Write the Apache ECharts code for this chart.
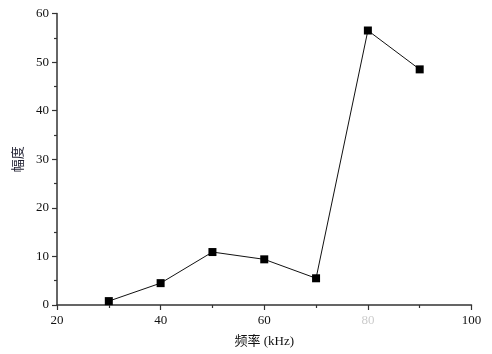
<!DOCTYPE html>
<html><head><meta charset="utf-8">
<script src="https://cdn.jsdelivr.net/npm/echarts@6/dist/echarts.min.js"></script>
<style>html,body{margin:0;padding:0;background:#fff}#c{width:492px;height:354px}</style>
</head><body><div id="c"></div>
<script>
const freq = [30, 40, 50, 60, 70, 80, 90];
const amp = [0.8, 4.5, 10.9, 9.4, 5.5, 56.5, 48.5];
const xName = '频率 (kHz)';
const yName = '幅度';
const fontSerif = '"Liberation Serif","Times New Roman",serif';
const fontCJK = '"Liberation Serif","Noto Sans CJK SC",serif';
const chart = echarts.init(document.getElementById('c'), null, {renderer: 'canvas'});
chart.setOption({
  animation: false,
  backgroundColor: '#fff',
  grid: {left: 57, right: 20.5, top: 13.5, bottom: 49, containLabel: false},
  xAxis: {
    type: 'value', min: 20, max: 100, interval: 20,
    name: xName, nameLocation: 'middle', nameGap: 30,
    nameTextStyle: {fontFamily: fontCJK, fontSize: 13, color: '#111'},
    axisLine: {show: true, lineStyle: {color: '#333', width: 1.5}},
    axisTick: {show: true, inside: false, length: 5, lineStyle: {color: '#333', width: 1.2}},
    minorTick: {show: true, splitNumber: 2, length: 3, lineStyle: {color: '#333', width: 1.2}},
    splitLine: {show: false},
    axisLabel: {
      fontFamily: fontSerif, fontSize: 13, color: '#111', margin: 9,
      formatter: function (v) { return v === 80 ? '{g|80}' : String(v); },
      rich: {g: {color: '#ccc', fontFamily: fontSerif, fontSize: 13}}
    }
  },
  yAxis: {
    type: 'value', min: 0, max: 60, interval: 10,
    name: yName, nameLocation: 'middle', nameGap: 25, nameRotate: 90,
    nameTextStyle: {fontFamily: fontCJK, fontSize: 13, color: '#223'},
    axisLine: {show: true, lineStyle: {color: '#333', width: 1.5}},
    axisTick: {show: true, inside: false, length: 5, lineStyle: {color: '#333', width: 1.2}},
    minorTick: {show: true, splitNumber: 2, length: 3, lineStyle: {color: '#333', width: 1.2}},
    splitLine: {show: false},
    axisLabel: {fontFamily: fontSerif, fontSize: 13, color: '#111', margin: 8}
  },
  series: [{
    type: 'line',
    data: freq.map((f, i) => [f, amp[i]]),
    symbol: 'rect', symbolSize: 8,
    itemStyle: {color: '#000'},
    lineStyle: {color: '#111', width: 1}
  }]
});
</script></body></html>
